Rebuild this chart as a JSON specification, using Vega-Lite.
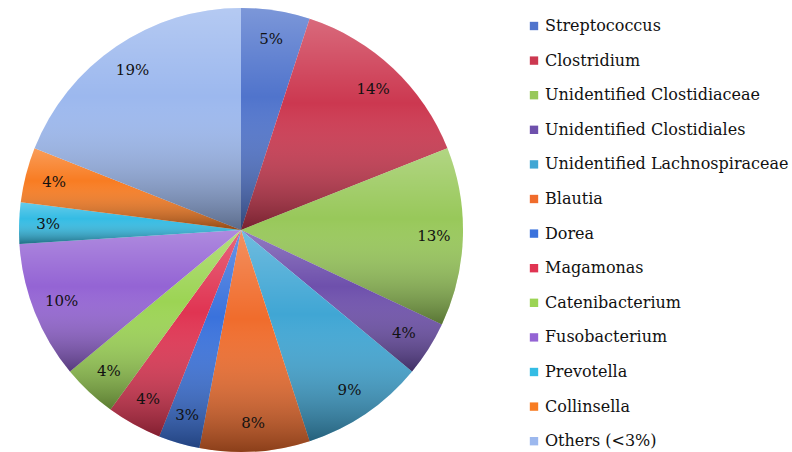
{
  "$schema": "https://vega.github.io/schema/vega-lite/v6.json",
  "autosize": "none",
  "padding": {"left": 0, "top": 0, "right": 310, "bottom": 0},
  "width": 482,
  "height": 460,
  "background": "white",
  "config": {"view": {"stroke": null}},
  "data": {
    "values": [
      {"genus": "Streptococcus", "pct": 5, "label": "5%", "k": 1},
      {"genus": "Clostridium", "pct": 14, "label": "14%", "k": 2},
      {"genus": "Unidentified Clostidiaceae", "pct": 13, "label": "13%", "k": 3},
      {"genus": "Unidentified Clostidiales", "pct": 4, "label": "4%", "k": 4},
      {"genus": "Unidentified Lachnospiraceae", "pct": 9, "label": "9%", "k": 5},
      {"genus": "Blautia", "pct": 8, "label": "8%", "k": 6},
      {"genus": "Dorea", "pct": 3, "label": "3%", "k": 7},
      {"genus": "Magamonas", "pct": 4, "label": "4%", "k": 8},
      {"genus": "Catenibacterium", "pct": 4, "label": "4%", "k": 9},
      {"genus": "Fusobacterium", "pct": 10, "label": "10%", "k": 10},
      {"genus": "Prevotella", "pct": 3, "label": "3%", "k": 11},
      {"genus": "Collinsella", "pct": 4, "label": "4%", "k": 12},
      {"genus": "Others (<3%)", "pct": 19, "label": "19%", "k": 13}
    ]
  },
  "encoding": {
    "theta": {"field": "pct", "type": "quantitative", "stack": true},
    "order": {"field": "k", "type": "quantitative"}
  },
  "layer": [
    {
      "mark": {"type": "arc", "outerRadius": 222},
      "encoding": {
        "color": {
          "field": "genus",
          "type": "nominal",
          "sort": null,
          "scale": {
            "domain": ["Streptococcus", "Clostridium", "Unidentified Clostidiaceae", "Unidentified Clostidiales", "Unidentified Lachnospiraceae", "Blautia", "Dorea", "Magamonas", "Catenibacterium", "Fusobacterium", "Prevotella", "Collinsella", "Others (<3%)"],
            "range": ["#5074cc", "#cc3850", "#98c85a", "#6e50ac", "#40a6d4", "#f06c2c", "#3a72dc", "#e03452", "#9cd454", "#9464d4", "#34bce4", "#f87c22", "#9cb8ee"]
          },
          "legend": {
            "title": null,
            "orient": "none",
            "legendX": 526,
            "legendY": 18,
            "symbolType": "square",
            "symbolSize": 70,
            "symbolStrokeWidth": 0,
            "labelFont": "DejaVu Serif",
            "labelFontSize": 16,
            "labelColor": "#111111",
            "labelOffset": 3,
            "labelLimit": 300,
            "rowPadding": 18.6
          }
        }
      }
    },
    {
      "mark": {
        "type": "arc",
        "outerRadius": 222,
        "color": {
          "gradient": "linear",
          "x1": 0, "y1": 0, "x2": 0, "y2": 1,
          "stops": [
            {"offset": 0, "color": "rgba(255,255,255,0.25)"},
            {"offset": 0.4, "color": "rgba(255,255,255,0)"},
            {"offset": 1, "color": "rgba(0,0,0,0.42)"}
          ]
        }
      }
    },
    {
      "mark": {"type": "text", "radius": 193, "font": "DejaVu Serif", "fontSize": 15, "color": "#111111"},
      "encoding": {
        "text": {"field": "label", "type": "nominal"}
      }
    }
  ]
}
